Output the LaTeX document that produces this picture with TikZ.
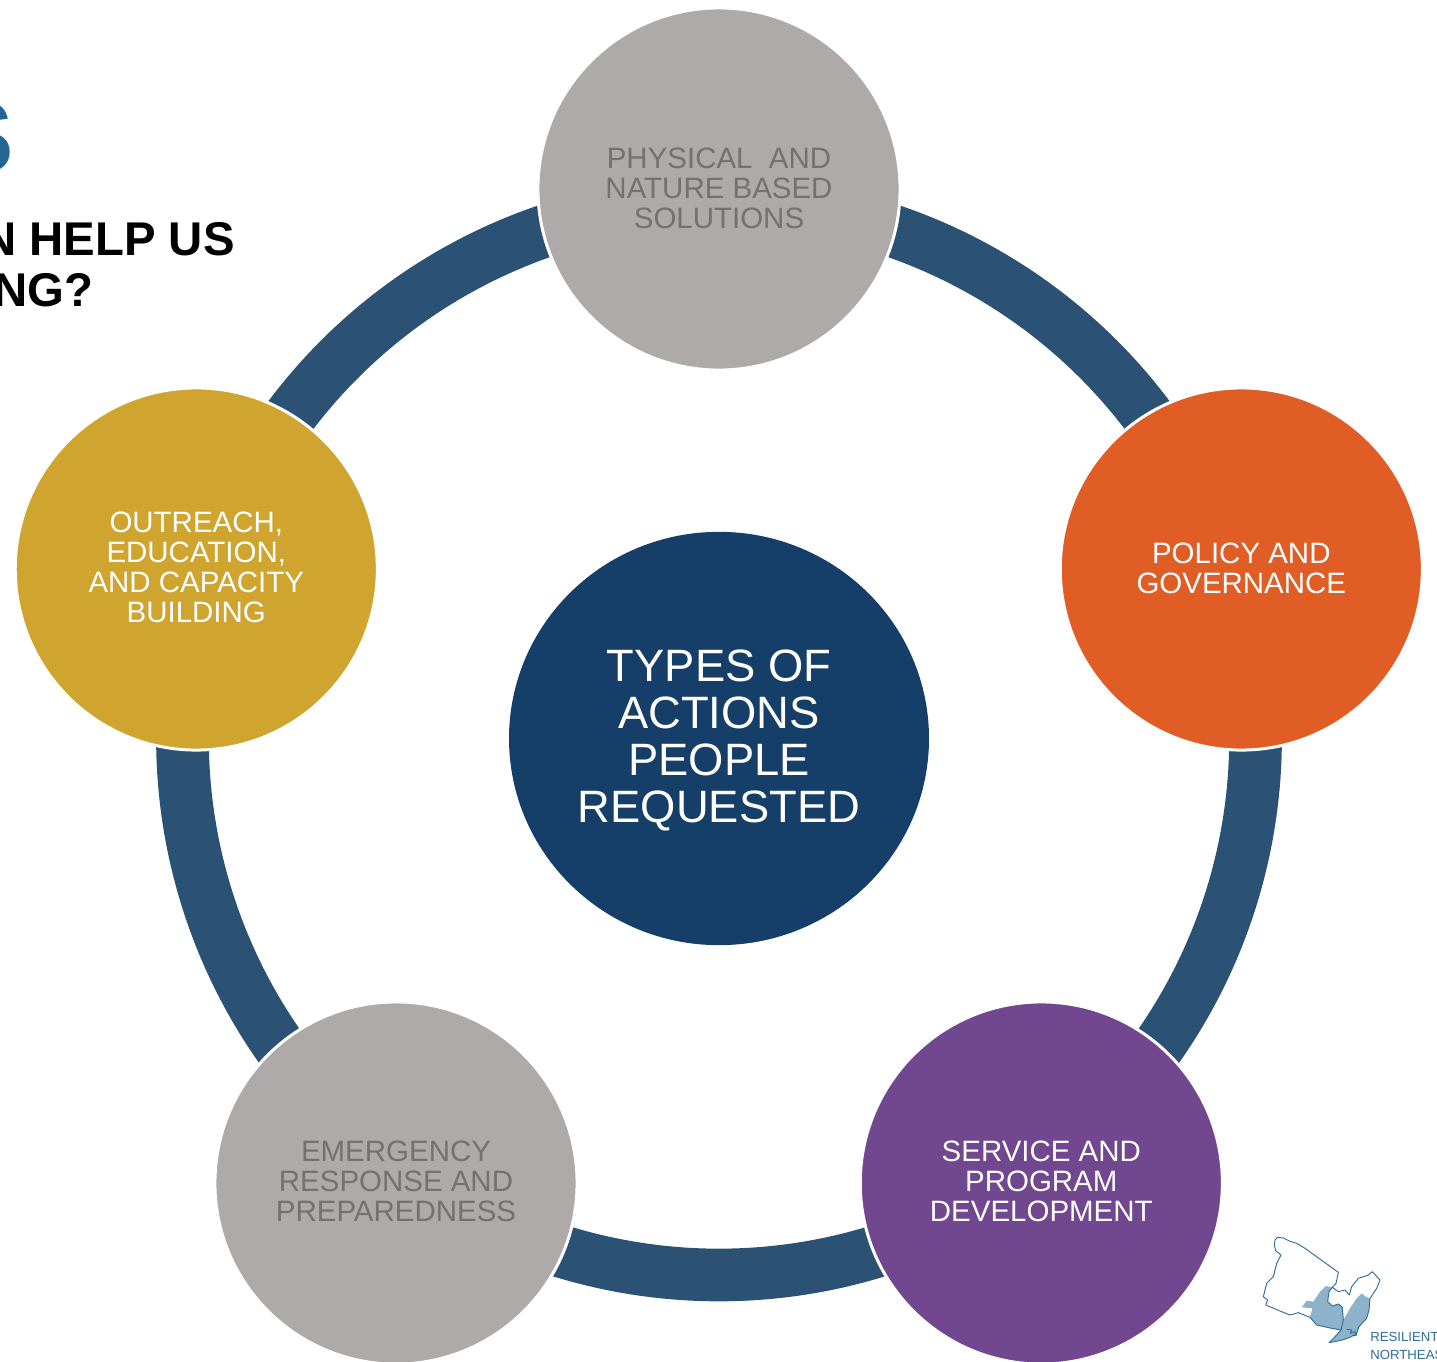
\documentclass[tikz,border=0pt]{standalone}
\usepackage{fontspec}
\setmainfont{Liberation Sans}
\usetikzlibrary{shapes.geometric}
\definecolor{ringc}{HTML}{2B5275}
\definecolor{hubc}{HTML}{153F69}
\definecolor{greyc}{HTML}{AEAAA9}
\definecolor{greyt}{HTML}{757171}
\definecolor{orangec}{HTML}{E05D26}
\definecolor{purplec}{HTML}{71478F}
\definecolor{goldc}{HTML}{CFA52F}
\definecolor{logoc}{HTML}{2F6D98}
\definecolor{logof}{HTML}{8FB2CB}
\definecolor{titleb}{HTML}{256591}
\tikzset{
  petal/.style={circle,draw=white,line width=2.25pt,minimum size=271.6pt,inner sep=0pt},
  petaltext/.style={inner sep=0pt,align=center,text=white,font=\fontsize{22.1}{22.5}\selectfont},
  ringarc/.style={draw=ringc,line width=39.5pt},
  logoline/.style={draw=logoc,line width=.7pt,line join=round},
  logotext/.style={text=logoc,anchor=base west,inner sep=0pt,font=\fontsize{9.9}{12}\selectfont},
  headline/.style={anchor=base east,inner sep=0pt,font=\fontsize{35.5}{39}\bfseries\selectfont}
}
\begin{document}
\begin{tikzpicture}[x=.75pt,y=.75pt]
\useasboundingbox (0,0) rectangle (1437,1361);
\clip (0,0) rectangle (1437,1361);
\coordinate (centre) at (719,622.5);
\foreach \a in {18,90,162,234,306}
  \draw[ringarc] (centre) ++(\a:536.5) arc[start angle=\a,delta angle=72,radius=536.5];
\node[petal,fill=greyc] (physical) at (719,1172) {};
\node[petal,fill=orangec] (policy) at (1241.3,792) {};
\node[petal,fill=purplec] (service) at (1041.3,178) {};
\node[petal,fill=greyc] (emergency) at (396,178) {};
\node[petal,fill=goldc] (outreach) at (196.3,792) {};
\node[petaltext,text=greyt] (physicalt) at ([yshift=.4pt]physical) {PHYSICAL\ \ AND\\NATURE BASED\\SOLUTIONS};
\node[petaltext] (policyt) at ([yshift=.4pt]policy) {POLICY AND\\GOVERNANCE};
\node[petaltext] (servicet) at ([yshift=1.6pt]service) {SERVICE AND\\PROGRAM\\DEVELOPMENT};
\node[petaltext,text=greyt] (emergencyt) at ([yshift=1.6pt]emergency) {EMERGENCY\\RESPONSE AND\\PREPAREDNESS};
\node[petaltext] (outreacht) at ([yshift=1.5pt]outreach) {OUTREACH,\\EDUCATION,\\AND CAPACITY\\BUILDING};
\node[ellipse,fill=hubc,minimum width=315pt,minimum height=310pt,inner sep=0pt,align=center,text=white] (hub) at (719,622.5) {};
\node[inner sep=0pt,align=center,text=white,font=\fontsize{34}{35.2}\selectfont] (hubt) at ([yshift=-1.5pt]hub) {TYPES OF\\ACTIONS\\PEOPLE\\REQUESTED};
\node[anchor=base east,inner sep=0pt,text=titleb,font=\fontsize{76}{80}\bfseries\selectfont] (bigs) at (14,1188) {S};
\node[headline] (line1) at (235,1105) {N HELP US};
\node[headline] (line2) at (94,1054) {NG?};
\begin{scope}[shift={(1255,131)},x=.25pt,y=-.25pt]
  \fill[logof] (213,168) -- (232,172) -- (222,185) -- (218,215) -- (232,228) -- (250,222) -- (262,232) -- (265,270) -- (285,235) -- (305,205) -- (320,190) -- (332,200) -- (345,205) -- (342,240) -- (335,265) -- (312,290) -- (305,310) -- (285,322) -- (262,330) -- (222,338) -- (240,320) -- (258,300) -- (230,295) -- (185,285) -- (165,262) -- (172,235) -- (140,232) -- (155,212) -- (175,215) -- (195,185) -- cycle;
  \draw[logoline] (60,30) -- (68,22) -- (85,24) -- (105,34) -- (125,40) -- (150,55) -- (250,127) -- (243,160) -- (232,172) -- (222,185) -- (218,215) -- (232,228) -- (250,222) -- (262,232) -- (265,270) -- (258,300) -- (240,320) -- (222,338) -- (262,330) -- (285,322) -- (305,310) -- (312,290) -- (335,265) -- (342,240) -- (345,205) -- (365,175) -- (375,150) -- (352,125) -- (340,135) -- (310,145) -- (290,170) -- (283,195) -- (270,180) -- (250,185) -- (232,172);
  \draw[logoline] (258,300) -- (230,295) -- (185,285) -- (165,262) -- (130,248) -- (105,255) -- (80,245) -- (32,225) -- (38,210) -- (25,200) -- (35,160) -- (55,140) -- (65,100) -- (78,75) -- (62,62) -- (58,45) -- (60,30);
  \draw[logoline] (275,298) -- (290,300) -- (286,310) -- (300,305) -- (305,315) -- (292,318);
\end{scope}
\node[logotext] (res) at (1370,19.5) {RESILIENT};
\node[logotext] (nor) at (1370,2) {NORTHEAST};
\end{tikzpicture}
\end{document}
